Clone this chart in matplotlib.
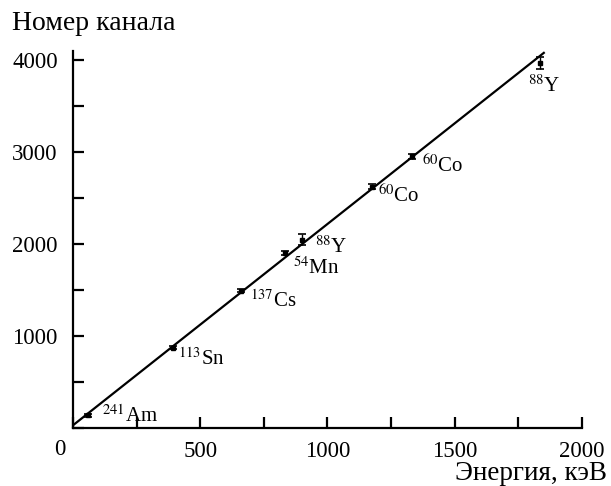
import matplotlib
matplotlib.use('Agg')
import matplotlib.pyplot as plt
from matplotlib.ticker import MultipleLocator

plt.rcParams['font.family'] = ['Liberation Serif', 'DejaVu Serif']
plt.rcParams['mathtext.fontset'] = 'stix'

# calibration points: gamma energy (keV) and channel number
energy = [59.5, 391.7, 661.7, 834.8, 898.0, 1173.2, 1332.5, 1836.1]
channel = [140, 875, 1495, 1905, 2050, 2625, 2955, 3965]
channel_err = [15, 15, 15, 25, 60, 30, 25, 65]
isotopes = ['241Am', '113Sn', '137Cs', '54Mn', '88Y', '60Co', '60Co', '88Y']
label_x = [114, 413, 695, 864, 951, 1198, 1371, 1788]
label_y = [65, 685, 1315, 1674, 1902, 2457, 2783, 3652]

# linear fit
fit_energy = [0, 1850]
fit_channel = [30, 4080]


def iso_label(name):
    mass = ''.join(c for c in name if c.isdigit())
    elem = ''.join(c for c in name if not c.isdigit())
    return r'$^{\mathrm{%s}}$%s' % (mass, elem)


fig = plt.figure(figsize=(6.11, 4.86), dpi=100)
ax = fig.add_axes([0.1195, 0.1193, 0.833, 0.7757])

ax.plot(fit_energy, fit_channel, color='black', lw=1.6)
ax.errorbar(energy, channel, yerr=channel_err, fmt='s', color='black',
            ms=3, capsize=3, elinewidth=1.0, capthick=1.2)

for x, y, name in zip(label_x, label_y, isotopes):
    ax.text(x, y, iso_label(name), fontsize=15, ha='left', va='baseline')

ax.set_xlim(0, 2000)
ax.set_ylim(0, 4100)
ax.xaxis.set_major_locator(MultipleLocator(500))
ax.xaxis.set_minor_locator(MultipleLocator(250))
ax.yaxis.set_major_locator(MultipleLocator(1000))
ax.yaxis.set_minor_locator(MultipleLocator(500))
ax.set_xticks([500, 1000, 1500, 2000])
ax.set_yticks([1000, 2000, 3000, 4000])

for side in ['top', 'right']:
    ax.spines[side].set_visible(False)
for side in ['left', 'bottom']:
    ax.spines[side].set_linewidth(1.6)

ax.tick_params(which='both', direction='in', width=1.6, labelsize=16.5)
ax.tick_params(which='major', length=8)
ax.tick_params(which='minor', length=8)
ax.tick_params(axis='x', pad=9)
ax.tick_params(axis='y', pad=11)

fig.text(60 / 611, 1 - 449 / 486, '0', fontsize=16.5, ha='center', va='center')
fig.text(12 / 611, 1 - 30 / 486, 'Номер канала', fontsize=20, ha='left', va='baseline')
fig.text(607 / 611, 1 - 480 / 486, 'Энергия, кэВ', fontsize=19.5, ha='right', va='baseline')

plt.savefig('out.png', dpi=100)
